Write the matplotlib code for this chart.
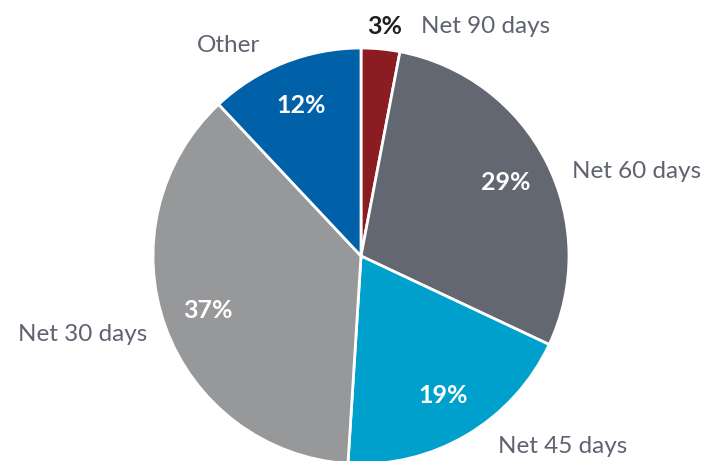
import matplotlib
matplotlib.use("Agg")
import matplotlib.pyplot as plt
import numpy as np

# payment terms share
terms = ["Net 90 days", "Net 60 days", "Net 45 days", "Net 30 days", "Other"]
shares = [3, 29, 19, 37, 12]
colors = ["#8a1c22", "#636771", "#00a0cc", "#97989a", "#0060a8"]

# label anchor points (data units, pie radius = 1) and alignment
label_xy = [(0.29, 1.105), (1.015, 0.405), (0.66, -0.918), (-1.03, -0.375), (-0.635, 1.012)]
label_ha = ["left", "left", "left", "right", "center"]

plt.rcParams["font.family"] = ["Lato", "DejaVu Sans"]

fig = plt.figure(figsize=(7.12, 4.61), dpi=100)
ax = fig.add_axes([0, 0, 1, 1])

R = 208.0
cx, cy = 361.0, 256.0
wedges, _ = ax.pie(shares, colors=colors, startangle=90, counterclock=False,
                   radius=1.0, wedgeprops=dict(edgecolor="white", linewidth=2))

# percentages inside the wedges (the small one goes outside, next to its label)
for w, v in zip(wedges, shares):
    mid = np.deg2rad((w.theta1 + w.theta2) / 2)
    if v < 5:
        ax.text(0.115, 1.105, f"{v}%", ha="center", va="center",
                fontsize=18, fontweight="bold", color="#231f20")
    else:
        ax.text(0.78 * np.cos(mid), 0.78 * np.sin(mid), f"{v}%", ha="center", va="center",
                fontsize=18, fontweight="bold", color="white")

for name, (x, y), ha in zip(terms, label_xy, label_ha):
    ax.text(x, y, name, ha=ha, va="center", fontsize=17.5, color="#5f6270")

ax.set_xlim(-cx / R, (712 - cx) / R)
ax.set_ylim(-(461 - cy) / R, cy / R)
ax.set_aspect("auto")
ax.axis("off")

fig.savefig("out.png", dpi=100)
